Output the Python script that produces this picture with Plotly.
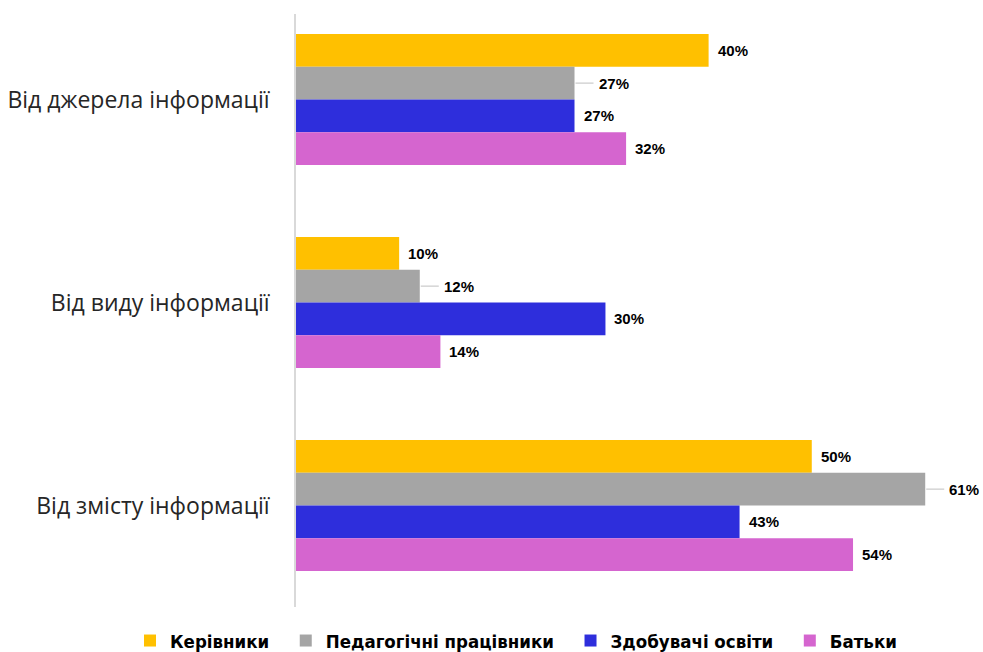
import plotly.graph_objects as go

categories = ["Від джерела інформації", "Від виду інформації", "Від змісту інформації"]
series_names = ["Керівники", "Педагогічні працівники", "Здобувачі освіти", "Батьки"]
kerivnyky = [40, 10, 50]
pedagogy = [27, 12, 61]
zdobuvachi = [27, 30, 43]
batky = [32, 14, 54]
series_values = [kerivnyky, pedagogy, zdobuvachi, batky]
colors = ["#FFC000", "#A5A5A5", "#2E2EDC", "#D565CF"]

W, H = 983, 652
m_l, m_r, m_t, m_b = 296, 0, 14, 45
plot_w = W - m_l - m_r
plot_h = H - m_t - m_b
bargap = 0.355
y_top, y_bot = -0.421, 2.5
px_per_unit = plot_h / (y_bot - y_top)
bar_px = (1 - bargap) / 4 * px_per_unit

fig = go.Figure()
for k, (name, vals, col) in enumerate(zip(series_names, series_values, colors)):
    pad = "\u00a0" * 2 if k < len(series_names) - 1 else ""
    fig.add_trace(go.Bar(
        y=categories, x=vals, name=name + pad, orientation="h",
        marker=dict(color=col, line=dict(width=0)),
        hovertemplate=name + ": %{x}%<extra></extra>",
    ))

annotations = []
for i, vals in enumerate(series_values):
    for cat, v in zip(categories, vals):
        ys = (1.5 - i) * bar_px
        base = dict(x=v, y=cat, text=f"<b>{v}%</b>", yshift=ys, xanchor="left",
                    font=dict(family="Liberation Sans, Arial", size=15, color="#000000"))
        if i == 1:
            base.update(showarrow=True, arrowhead=0, arrowwidth=1, arrowcolor="#BFBFBF",
                        ax=22, ay=0, standoff=1, startstandoff=3)
        else:
            base.update(showarrow=False, xshift=7)
        annotations.append(base)

fig.update_layout(
    width=W, height=H,
    margin=dict(l=m_l, r=m_r, t=m_t, b=m_b, autoexpand=False),
    paper_bgcolor="white", plot_bgcolor="white",
    barmode="group", bargap=bargap, bargroupgap=0,
    xaxis=dict(range=[0, 66.6], showgrid=False, showticklabels=False, zeroline=False,
               showline=False, ticks="", automargin=False),
    yaxis=dict(range=[y_bot, y_top], showgrid=False, zeroline=False, automargin=False,
               showline=True, linecolor="#D9D9D9", linewidth=1.5, ticks="",
               ticklabelstandoff=20,
               tickfont=dict(family="Open Sans, Noto Sans", size=23, color="#262626")),
    legend=dict(orientation="h", xref="paper", x=(130 - m_l) / plot_w, xanchor="left",
                yref="paper", y=-34 / plot_h, yanchor="middle",
                font=dict(family="DejaVu Sans Condensed, Liberation Sans", size=18.5,
                          color="#000000", weight="bold"),
                itemwidth=30, traceorder="normal", tracegroupgap=0),
    annotations=annotations,
    showlegend=True,
)
fig.write_html("out.html", config={"displayModeBar": False},
               post_script="document.body.style.margin='0';")
